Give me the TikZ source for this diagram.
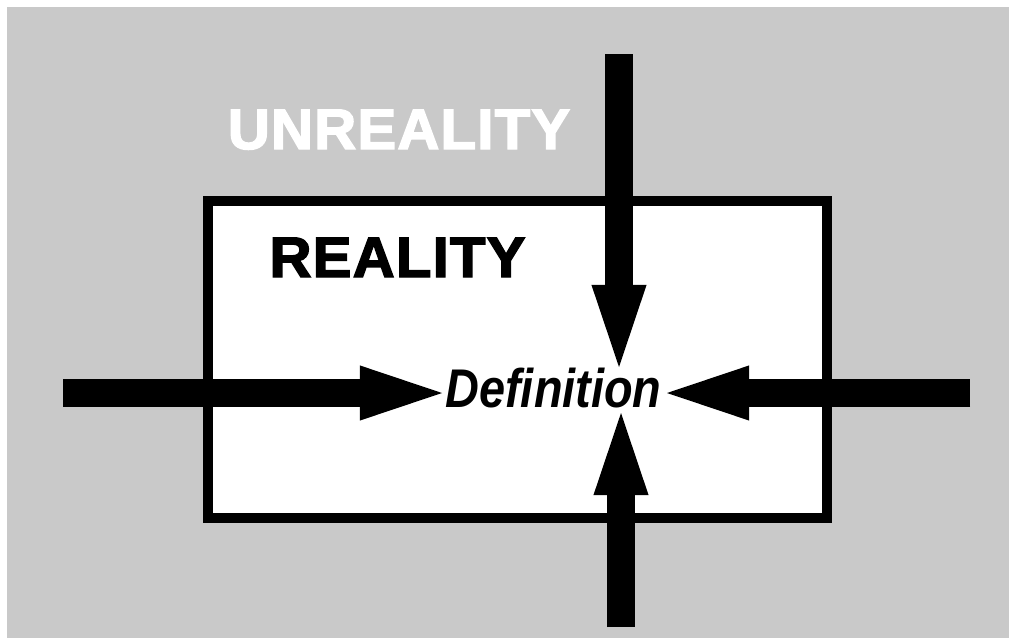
\documentclass[tikz,border=0pt]{standalone}
\usepackage{fontspec}
\setmainfont{Liberation Sans}
\newfontfamily\heavyfont[FakeBold=2.5,LetterSpace=2]{Liberation Sans Bold}
\usetikzlibrary{arrows.meta}
\definecolor{bggray}{RGB}{201,201,201}
\tikzset{
  bigarrow/.style={line width=23.9pt,draw=black,
    -{Triangle[length=70pt,width=47pt,line width=0pt]}},
  boxframe/.style={draw=black,fill=white,line width=8.54pt,line join=miter},
  titletext/.style={inner sep=0pt,anchor=base,font=\fontsize{48.7}{50}\selectfont\heavyfont,xscale=1.02},
  deftext/.style={inner sep=0pt,anchor=base,font=\fontsize{46.5}{48}\selectfont\bfseries\itshape,xscale=0.86}
}
\begin{document}
\begin{tikzpicture}[x=0.03cm,y=-0.03cm]
\useasboundingbox (0,0) rectangle (1009,638);
\fill[white] (0,0) rectangle (1009,638);
\fill[bggray] (7,7) rectangle (1009,638);
% reality box
\node[boxframe,minimum width=619*0.03cm,minimum height=317*0.03cm,inner sep=0pt] (box) at (517.5,359.5) {};
% labels
\node[titletext,text=white] (unreal) at (399,149) {UNREALITY};
\node[titletext,text=black] (real) at (397.5,277) {REALITY};
\node[deftext] (def) at (553.5,407) {Definition};
% arrow ends
\coordinate (topS) at (619,54);
\coordinate (topT) at (619,367);
\coordinate (botS) at (621,627);
\coordinate (botT) at (621,413);
\coordinate (leftS) at (63,393);
\coordinate (leftT) at (442,393);
\coordinate (rightS) at (970,393);
\coordinate (rightT) at (667,393);
\draw[bigarrow] (topS) -- (topT);
\draw[bigarrow] (botS) -- (botT);
\draw[bigarrow] (leftS) -- (leftT);
\draw[bigarrow] (rightS) -- (rightT);
\end{tikzpicture}
\end{document}
